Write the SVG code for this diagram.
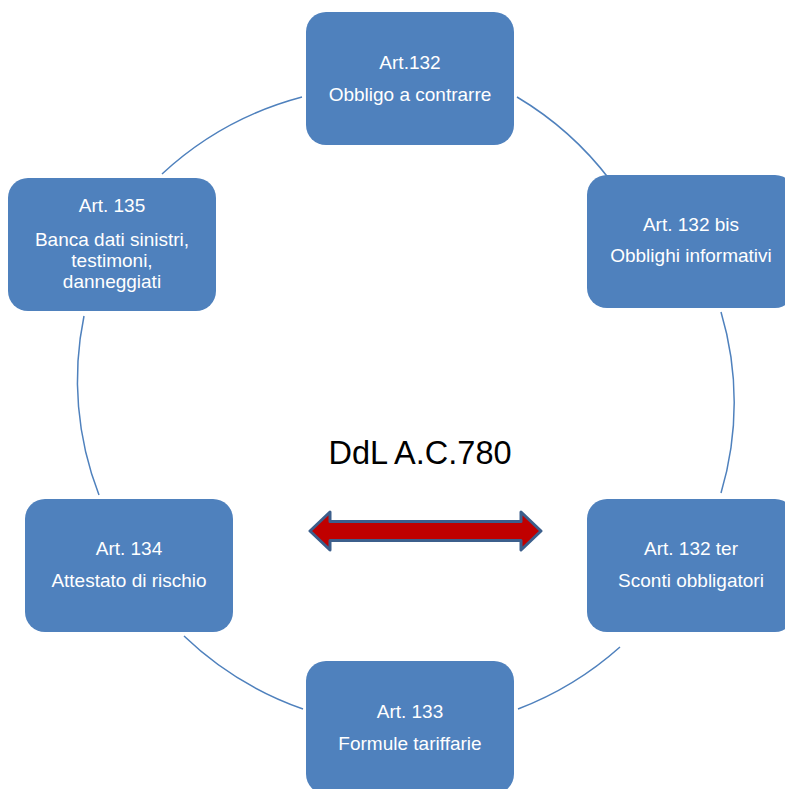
<svg xmlns="http://www.w3.org/2000/svg" width="785" height="789" viewBox="0 0 785 789">
<style>
.node rect{fill:#4F81BD;}
.node text{fill:#FFFFFF;font-family:"Liberation Sans",Arial,sans-serif;font-size:19px;text-anchor:middle;}
.arc{fill:none;stroke:#4F81BD;stroke-width:1.5;}
.title{fill:#000000;font-family:"Liberation Sans",Arial,sans-serif;font-size:32.5px;text-anchor:middle;}
</style>
<rect width="785" height="789" fill="#FFFFFF"/>
<g id="connectors">
<path class="arc" d="M517,97 A328,322 0 0 1 610,180"/>
<path class="arc" d="M721,312 A328,322 0 0 1 721,493"/>
<path class="arc" d="M620,647 A328,322 0 0 1 518,709"/>
<path class="arc" d="M303,709 A328,322 0 0 1 184,636"/>
<path class="arc" d="M99,495 A328,322 0 0 1 84,316"/>
<path class="arc" d="M162,174 A328,322 0 0 1 302,97"/>
</g>
<g id="node-art132" class="node">
<rect x="306" y="12" width="208" height="133" rx="20" ry="20"/>
<text x="410" y="69">Art.132</text>
<text x="410" y="101">Obbligo a contrarre</text>
</g>
<g id="node-art132bis" class="node">
<rect x="587" y="175" width="208" height="133" rx="20" ry="20"/>
<text x="691" y="231">Art. 132 bis</text>
<text x="691" y="262">Obblighi informativi</text>
</g>
<g id="node-art132ter" class="node">
<rect x="587" y="499" width="208" height="133" rx="20" ry="20"/>
<text x="691" y="555">Art. 132 ter</text>
<text x="691" y="587">Sconti obbligatori</text>
</g>
<g id="node-art133" class="node">
<rect x="306" y="661" width="208" height="133" rx="20" ry="20"/>
<text x="410" y="718">Art. 133</text>
<text x="410" y="750">Formule tariffarie</text>
</g>
<g id="node-art134" class="node">
<rect x="25" y="499" width="208" height="133" rx="20" ry="20"/>
<text x="129" y="555">Art. 134</text>
<text x="129" y="587">Attestato di rischio</text>
</g>
<g id="node-art135" class="node">
<rect x="8" y="178" width="208" height="133" rx="20" ry="20"/>
<text x="112" y="212">Art. 135</text>
<text x="112" y="246">Banca dati sinistri,</text>
<text x="112" y="267">testimoni,</text>
<text x="112" y="288">danneggiati</text>
</g>
<g id="center">
<text class="title" x="420" y="464">DdL A.C.780</text>
<polygon points="310,531 330,512 330,521.5 521,521.5 521,512 541,531 521,550 521,540.5 330,540.5 330,550" fill="#C00000" stroke="#3C5F8C" stroke-width="3" stroke-linejoin="round"/>
</g>
</svg>
